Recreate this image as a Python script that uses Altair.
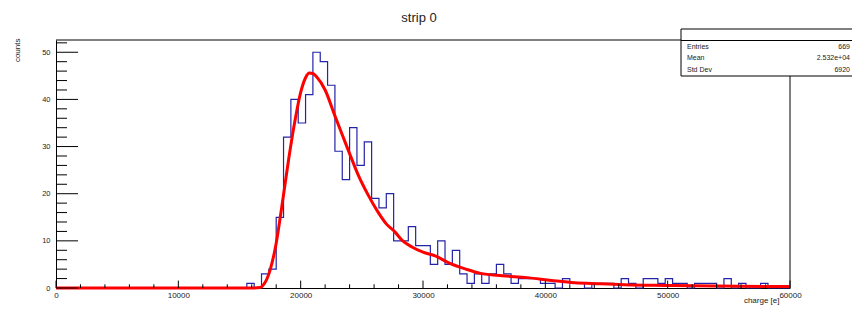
import altair as alt
import pandas as pd

# ---------------- data ----------------
bin_width = 600
counts = [0] * 26 + [
    1, 0, 3, 4, 15, 32, 40, 35, 41, 50,      # bins 26-35
    48, 43, 29, 23, 34, 26, 31, 19, 17, 20,  # bins 36-45
    10, 10, 13, 9, 9, 5, 10, 5, 8, 3,        # bins 46-55
    1, 3, 1, 3, 5, 3, 1, 2, 2, 2,            # bins 56-65
    1, 1, 0, 2, 1, 1, 0, 1, 1, 1,            # bins 66-75
    0, 2, 1, 0, 2, 2, 1, 2, 1, 1,            # bins 76-85
    0, 1, 1, 1, 0, 2, 0, 1, 0, 0,            # bins 86-95
    1, 0, 0, 0,                              # bins 96-99
]

fit_x = [0, 16000, 16700, 17000, 17500, 18000, 18500, 19000, 19500, 20000,
         20400, 20700, 21000, 21300, 22000, 22800, 23400, 24000, 24700, 25500,
         26300, 27000, 27700, 28300, 29100, 30000, 31000, 32200, 33500, 34700,
         36500, 38500, 40500, 42400, 44500, 46500, 50000, 54000, 60000]
fit_y = [0, 0, 0.1, 0.8, 3.8, 9.5, 18, 27, 35, 41.5,
         44.6, 45.6, 45.5, 44.8, 42, 36.5, 32.5, 28.5, 24, 19.8,
         16.2, 13.6, 11.9, 10.1, 8.7, 7.6, 6.8, 5.2, 4.0, 3.1,
         2.6, 2.2, 1.6, 1.1, 0.9, 0.7, 0.55, 0.4, 0.3]

x_major = [0, 10000, 20000, 30000, 40000, 50000, 60000]
x_minor = [v for v in range(0, 60001, 2000) if v % 10000 != 0]
y_major = [0, 10, 20, 30, 40, 50]
y_minor = [v for v in range(0, 53, 2) if v % 10 != 0]

stats_labels = ["Entries", "Mean", "Std Dev"]
stats_values = ["669", "2.532e+04", "6920"]
title_text = "strip 0"
x_title = "charge [e]"
y_title = "counts"

# ---------------- layout ----------------
W, H = 734, 248
X_MAX = 60000
Y_MAX = 52.6
FONT = "Liberation Sans"

edges = [i * bin_width for i in range(len(counts))] + [len(counts) * bin_width]
hist_df = pd.DataFrame({"x": edges, "y": counts + [0]})
fit_df = pd.DataFrame({"x": fit_x, "y": fit_y})

xscale = alt.Scale(domain=[0, X_MAX], nice=False, zero=False)
yscale = alt.Scale(domain=[0, Y_MAX], nice=False)

x_axis = alt.Axis(values=x_major, format="d", ticks=False, grid=False,
                  labelFontSize=8, labelFont=FONT, labelColor="#222",
                  labelPadding=3, labelFlush=False, labelOverlap=False,
                  domainColor="black", title=x_title, titleFont=FONT,
                  titleFontSize=8, titleFontWeight="normal", titleColor="#222",
                  titleX=W - 11, titleY=14.8, titleAlign="right",
                  titleBaseline="alphabetic")
y_axis = alt.Axis(values=y_major, format="d", ticks=False, grid=False,
                  labelFontSize=7.5, labelFont=FONT, labelColor="#222",
                  labelPadding=6, labelFlush=False, labelOverlap=False,
                  domainColor="black", title=y_title, titleFont=FONT,
                  titleFontSize=8, titleFontWeight="normal", titleColor="#222",
                  titleX=-39, titleY=-2, titleAlign="right", titleAngle=270,
                  titleBaseline="middle")

hist = alt.Chart(hist_df).mark_line(
    interpolate="step-after", color="#2424a8", strokeWidth=1.2
).encode(
    x=alt.X("x:Q", scale=xscale, axis=x_axis),
    y=alt.Y("y:Q", scale=yscale, axis=y_axis),
)

fit = alt.Chart(fit_df).mark_line(
    interpolate="monotone", color="#ff0000", strokeWidth=3
).encode(x=alt.X("x:Q"), y=alt.Y("y:Q"))

xmaj = alt.Chart(pd.DataFrame({"x": x_major})).mark_rule(color="black", strokeWidth=1).encode(
    x=alt.X("x:Q"), y=alt.value(H), y2=alt.value(H - 7.4))
xmin = alt.Chart(pd.DataFrame({"x": x_minor})).mark_rule(color="black", strokeWidth=1).encode(
    x=alt.X("x:Q"), y=alt.value(H), y2=alt.value(H - 3.7))
ymaj = alt.Chart(pd.DataFrame({"y": y_major})).mark_rule(color="black", strokeWidth=1).encode(
    y=alt.Y("y:Q"), x=alt.value(0), x2=alt.value(22))
ymin = alt.Chart(pd.DataFrame({"y": y_minor})).mark_rule(color="black", strokeWidth=1).encode(
    y=alt.Y("y:Q"), x=alt.value(0), x2=alt.value(11))

one = pd.DataFrame({"a": [0]})
# frame (top and right sides of the plot area)
frame_top = alt.Chart(one).mark_rule(color="black", strokeWidth=1).encode(
    x=alt.value(0), x2=alt.value(W), y=alt.value(0))
frame_right = alt.Chart(one).mark_rule(color="black", strokeWidth=1).encode(
    x=alt.value(W), y=alt.value(0), y2=alt.value(H))

BOX_L, BOX_R, BOX_T, BOX_B = 625, 806, -11, 36
box = alt.Chart(one).mark_rect(fill="white", stroke="black", strokeWidth=1).encode(
    x=alt.value(BOX_L), x2=alt.value(BOX_R), y=alt.value(BOX_T), y2=alt.value(BOX_B))
sep = alt.Chart(one).mark_rule(color="black", strokeWidth=1).encode(
    x=alt.value(BOX_L), x2=alt.value(BOX_R), y=alt.value(0.5))

stat_layers = []
for i, (lab, val) in enumerate(zip(stats_labels, stats_values)):
    yy = 6.5 + 11.7 * i
    stat_layers.append(alt.Chart(one).mark_text(
        text=lab, align="left", baseline="middle", font=FONT, fontSize=7, color="#222"
    ).encode(x=alt.value(631), y=alt.value(yy)))
    stat_layers.append(alt.Chart(one).mark_text(
        text=val, align="right", baseline="middle", font=FONT, fontSize=7, color="#222"
    ).encode(x=alt.value(794), y=alt.value(yy)))

title_mark = alt.Chart(one).mark_text(
    text=title_text, align="center", baseline="middle", font=FONT,
    fontSize=13, color="#222"
).encode(x=alt.value(W / 2 - 4), y=alt.value(-22))

chart = alt.layer(
    hist, fit, xmaj, xmin, ymaj, ymin, frame_top, frame_right,
    box, sep, *stat_layers, title_mark
).properties(
    width=W, height=H,
    padding={"left": 48, "top": 32, "right": 62, "bottom": 17},
    autosize=alt.AutoSizeParams(type="none"),
    background="white",
).configure_view(strokeWidth=0)

chart.save("out.html", embed_options={"renderer": "svg", "actions": False})
